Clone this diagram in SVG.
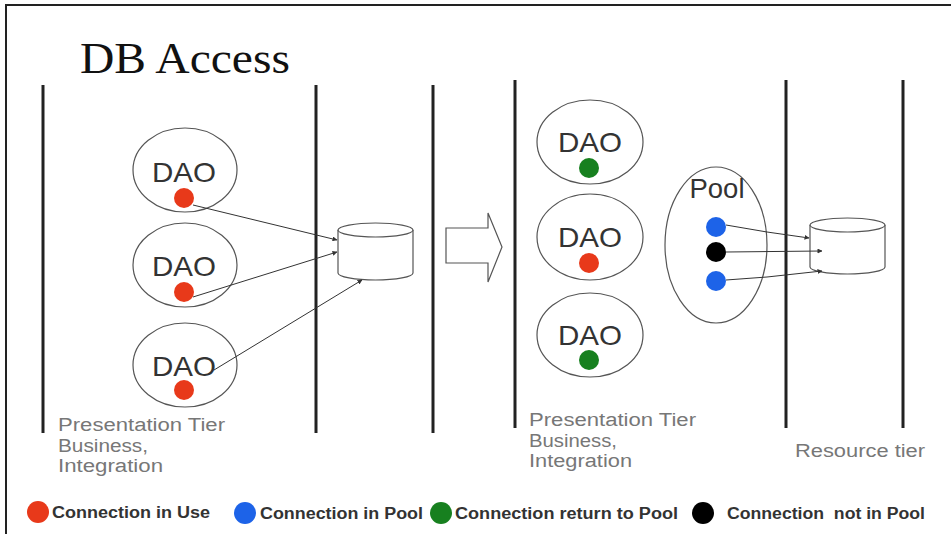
<svg xmlns="http://www.w3.org/2000/svg" width="951" height="535" viewBox="0 0 951 535">
<style>
.tier{stroke:#222;stroke-width:3;fill:none}
.node{fill:#fff;stroke:#555;stroke-width:1.2}
.dao{font-family:"Liberation Sans",Arial,sans-serif;font-size:28px;fill:#333;text-anchor:middle}
.lbl{font-family:"Liberation Sans",Arial,sans-serif;font-size:18px;fill:#777}
.leg{font-family:"Liberation Sans",Arial,sans-serif;font-size:16px;font-weight:bold;fill:#333}
.red{fill:#e8391a}.blue{fill:#1d63e8}.green{fill:#17801f}.black{fill:#000}
.conn{stroke:#333;stroke-width:1;fill:none;marker-end:url(#ah)}
</style>
<defs>
<marker id="ah" viewBox="0 0 10 10" refX="9" refY="5" markerWidth="5" markerHeight="5" orient="auto"><path d="M0,0 L10,5 L0,10 z" fill="#333"/></marker>
</defs>
<rect width="951" height="535" fill="#fff"/>
<path d="M6,534 V5 H951" stroke="#222" stroke-width="2" fill="none"/>
<text x="80" y="73" font-family="Liberation Serif,Times New Roman,serif" font-size="45" fill="#111" textLength="210" lengthAdjust="spacingAndGlyphs">DB Access</text>
<g id="tiers">
<line class="tier" x1="43" y1="85" x2="43" y2="433"/>
<line class="tier" x1="316" y1="85" x2="316" y2="433"/>
<line class="tier" x1="433" y1="85" x2="433" y2="433"/>
<line class="tier" x1="515" y1="80" x2="515" y2="428"/>
<line class="tier" x1="786" y1="80" x2="786" y2="428"/>
<line class="tier" x1="903" y1="80" x2="903" y2="428"/>
</g>
<g id="dao-l1"><ellipse class="node" cx="185" cy="170" rx="52" ry="42"/><text class="dao" x="184" y="182" textLength="64" lengthAdjust="spacingAndGlyphs">DAO</text><circle class="red" cx="184" cy="198" r="10"/></g>
<g id="dao-l2"><ellipse class="node" cx="185" cy="265" rx="52" ry="42"/><text class="dao" x="184" y="276" textLength="64" lengthAdjust="spacingAndGlyphs">DAO</text><circle class="red" cx="184" cy="292" r="10"/></g>
<g id="dao-l3"><ellipse class="node" cx="185" cy="365" rx="52" ry="42"/><text class="dao" x="184" y="376" textLength="64" lengthAdjust="spacingAndGlyphs">DAO</text><circle class="red" cx="184" cy="390" r="10"/></g>
<g id="db-l"><path class="node" d="M338,230 V273 A37.5,7 0 0 0 413,273 V230"/><ellipse class="node" cx="375.5" cy="230" rx="37.5" ry="7"/></g>
<g id="dao-r1"><ellipse class="node" cx="590" cy="142" rx="53" ry="42"/><text class="dao" x="590" y="152" textLength="64" lengthAdjust="spacingAndGlyphs">DAO</text><circle class="green" cx="589" cy="168" r="10"/></g>
<g id="dao-r2"><ellipse class="node" cx="590" cy="237" rx="53" ry="43"/><text class="dao" x="590" y="247" textLength="64" lengthAdjust="spacingAndGlyphs">DAO</text><circle class="red" cx="589" cy="263" r="10"/></g>
<g id="dao-r3"><ellipse class="node" cx="590" cy="335" rx="53" ry="42"/><text class="dao" x="590" y="345" textLength="64" lengthAdjust="spacingAndGlyphs">DAO</text><circle class="green" cx="589" cy="360" r="10"/></g>
<g id="pool"><ellipse class="node" cx="716" cy="245" rx="51" ry="78"/><text class="dao" x="717" y="198" font-size="22" textLength="55" lengthAdjust="spacingAndGlyphs">Pool</text>
<circle class="blue" cx="716" cy="227" r="10"/><circle class="black" cx="716" cy="252" r="10"/><circle class="blue" cx="716" cy="281" r="10"/></g>
<g id="db-r"><path class="node" d="M810,225 V267 A37.5,7 0 0 0 885,267 V225"/><ellipse class="node" cx="847.5" cy="225" rx="37.5" ry="7"/></g>
<g id="shift-arrow"><path class="node" d="M446,228 H488 V213 L502,247 L488,282 V263 H446 Z"/></g>
<g id="connectors">
<line class="conn" x1="193" y1="205" x2="337" y2="240"/>
<line class="conn" x1="193" y1="297" x2="337" y2="252"/>
<line class="conn" x1="214" y1="370" x2="362" y2="280"/>
<polyline class="conn" points="726,225 767,232 809,238"/>
<line class="conn" x1="726" y1="252" x2="822" y2="251"/>
<polyline class="conn" points="726,280 767,277 822,271"/>
</g>
<g id="labels">
<text class="lbl" x="58" y="431" textLength="167" lengthAdjust="spacingAndGlyphs">Presentation Tier</text>
<text class="lbl" x="58" y="452" textLength="90" lengthAdjust="spacingAndGlyphs">Business,</text>
<text class="lbl" x="58" y="472" textLength="105" lengthAdjust="spacingAndGlyphs">Integration</text>
<text class="lbl" x="529" y="426" textLength="167" lengthAdjust="spacingAndGlyphs">Presentation Tier</text>
<text class="lbl" x="529" y="447" textLength="88" lengthAdjust="spacingAndGlyphs">Business,</text>
<text class="lbl" x="529" y="467" textLength="103" lengthAdjust="spacingAndGlyphs">Integration</text>
<text class="lbl" x="795" y="457" textLength="130" lengthAdjust="spacingAndGlyphs">Resource tier</text>
</g>
<g id="legend">
<circle class="red" cx="38" cy="512" r="11"/><text class="leg" x="52" y="518" textLength="158" lengthAdjust="spacingAndGlyphs">Connection in Use</text>
<circle class="blue" cx="245" cy="513" r="11"/><text class="leg" x="260" y="519" textLength="163" lengthAdjust="spacingAndGlyphs">Connection in Pool</text>
<circle class="green" cx="441" cy="513" r="11"/><text class="leg" x="455" y="519" textLength="223" lengthAdjust="spacingAndGlyphs">Connection return to Pool</text>
<circle class="black" cx="703" cy="513" r="11"/><text class="leg" x="727" y="519" textLength="198" lengthAdjust="spacingAndGlyphs" xml:space="preserve">Connection  not in Pool</text>
</g>
</svg>
